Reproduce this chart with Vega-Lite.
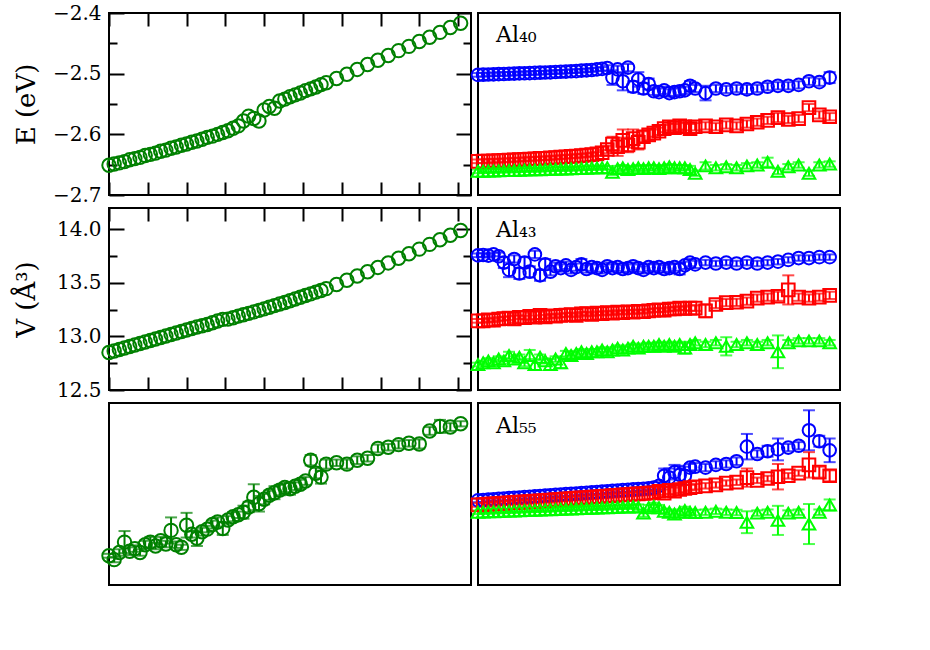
{
"$schema":"https://vega.github.io/schema/vega-lite/v6.json",
"padding":{"left":12,"top":2,"right":5,"bottom":5},
"config":{"font":"DejaVu Serif","view":{"stroke":"black","strokeWidth":2},
"axis":{"labelFont":"DejaVu Serif","labelFontSize":20,"labelColor":"black","titleFont":"DejaVu Serif","titleFontSize":26,"titleFontWeight":"normal","titleColor":"black","domain":false,"tickColor":"black","tickWidth":2,"grid":false,"labelFlush":false,"labelOverlap":false}},
"datasets":{
"L":[
{"T":300,"E":-2.651,"V":12.850,"C":3.45,"e":0.03},
{"T":310,"E":-2.649,"V":12.864,"C":3.39,"e":0.04},
{"T":320,"E":-2.647,"V":12.878,"C":3.50,"e":0.05},
{"T":330,"E":-2.645,"V":12.892,"C":3.66,"e":0.17},
{"T":340,"E":-2.642,"V":12.906,"C":3.52,"e":0.06},
{"T":350,"E":-2.640,"V":12.920,"C":3.56,"e":0.05},
{"T":360,"E":-2.638,"V":12.934,"C":3.50,"e":0.05},
{"T":370,"E":-2.635,"V":12.948,"C":3.62,"e":0.06},
{"T":380,"E":-2.633,"V":12.962,"C":3.66,"e":0.08},
{"T":390,"E":-2.631,"V":12.976,"C":3.60,"e":0.05},
{"T":400,"E":-2.628,"V":12.990,"C":3.68,"e":0.06},
{"T":410,"E":-2.626,"V":13.004,"C":3.63,"e":0.05},
{"T":420,"E":-2.623,"V":13.018,"C":3.84,"e":0.20},
{"T":430,"E":-2.621,"V":13.032,"C":3.62,"e":0.05},
{"T":440,"E":-2.618,"V":13.046,"C":3.58,"e":0.04},
{"T":450,"E":-2.616,"V":13.060,"C":3.92,"e":0.19},
{"T":460,"E":-2.613,"V":13.074,"C":3.78,"e":0.05},
{"T":470,"E":-2.611,"V":13.088,"C":3.72,"e":0.12},
{"T":480,"E":-2.608,"V":13.100,"C":3.82,"e":0.06},
{"T":490,"E":-2.605,"V":13.112,"C":3.86,"e":0.05},
{"T":500,"E":-2.603,"V":13.128,"C":3.93,"e":0.06},
{"T":510,"E":-2.600,"V":13.145,"C":3.97,"e":0.07},
{"T":520,"E":-2.597,"V":13.160,"C":3.87,"e":0.10},
{"T":530,"E":-2.594,"V":13.162,"C":4.00,"e":0.06},
{"T":540,"E":-2.590,"V":13.175,"C":4.05,"e":0.07},
{"T":550,"E":-2.586,"V":13.190,"C":4.08,"e":0.05},
{"T":560,"E":-2.578,"V":13.203,"C":4.12,"e":0.10},
{"T":570,"E":-2.570,"V":13.216,"C":4.20,"e":0.08},
{"T":580,"E":-2.574,"V":13.230,"C":4.35,"e":0.20},
{"T":590,"E":-2.578,"V":13.244,"C":4.25,"e":0.12},
{"T":600,"E":-2.560,"V":13.258,"C":4.32,"e":0.08},
{"T":610,"E":-2.554,"V":13.273,"C":4.38,"e":0.07},
{"T":620,"E":-2.557,"V":13.288,"C":4.42,"e":0.10},
{"T":630,"E":-2.545,"V":13.303,"C":4.46,"e":0.08},
{"T":640,"E":-2.542,"V":13.318,"C":4.50,"e":0.07},
{"T":650,"E":-2.538,"V":13.334,"C":4.48,"e":0.09},
{"T":660,"E":-2.535,"V":13.350,"C":4.52,"e":0.06},
{"T":670,"E":-2.532,"V":13.366,"C":4.55,"e":0.07},
{"T":680,"E":-2.528,"V":13.382,"C":4.60,"e":0.06},
{"T":690,"E":-2.525,"V":13.398,"C":4.92,"e":0.08},
{"T":700,"E":-2.522,"V":13.414,"C":4.72,"e":0.08},
{"T":710,"E":-2.518,"V":13.430,"C":4.66,"e":0.10},
{"T":720,"E":-2.515,"V":13.447,"C":4.86,"e":0.07},
{"T":740,"E":-2.508,"V":13.485,"C":4.88,"e":0.05},
{"T":760,"E":-2.501,"V":13.525,"C":4.86,"e":0.07},
{"T":780,"E":-2.493,"V":13.565,"C":4.92,"e":0.06},
{"T":800,"E":-2.485,"V":13.605,"C":4.95,"e":0.05},
{"T":820,"E":-2.478,"V":13.645,"C":5.10,"e":0.06},
{"T":840,"E":-2.470,"V":13.687,"C":5.12,"e":0.05},
{"T":860,"E":-2.462,"V":13.730,"C":5.16,"e":0.06},
{"T":880,"E":-2.455,"V":13.773,"C":5.18,"e":0.05},
{"T":900,"E":-2.447,"V":13.816,"C":5.17,"e":0.07},
{"T":920,"E":-2.440,"V":13.860,"C":5.37,"e":0.06},
{"T":940,"E":-2.432,"V":13.903,"C":5.44,"e":0.10},
{"T":960,"E":-2.424,"V":13.946,"C":5.43,"e":0.06},
{"T":980,"E":-2.417,"V":13.990,"C":5.48,"e":0.04}
],
"R":[
{"c":40,"s":"b","T":300,"R":3.660,"e":0.01},{"c":40,"s":"b","T":310,"R":3.661,"e":0.01},{"c":40,"s":"b","T":320,"R":3.662,"e":0.01},{"c":40,"s":"b","T":330,"R":3.663,"e":0.01},{"c":40,"s":"b","T":340,"R":3.664,"e":0.01},{"c":40,"s":"b","T":350,"R":3.665,"e":0.01},{"c":40,"s":"b","T":360,"R":3.666,"e":0.01},{"c":40,"s":"b","T":370,"R":3.667,"e":0.01},{"c":40,"s":"b","T":380,"R":3.668,"e":0.01},{"c":40,"s":"b","T":390,"R":3.669,"e":0.01},{"c":40,"s":"b","T":400,"R":3.670,"e":0.01},{"c":40,"s":"b","T":410,"R":3.671,"e":0.01},{"c":40,"s":"b","T":420,"R":3.672,"e":0.01},{"c":40,"s":"b","T":430,"R":3.673,"e":0.01},{"c":40,"s":"b","T":440,"R":3.674,"e":0.01},{"c":40,"s":"b","T":450,"R":3.676,"e":0.01},{"c":40,"s":"b","T":460,"R":3.677,"e":0.01},{"c":40,"s":"b","T":470,"R":3.678,"e":0.01},{"c":40,"s":"b","T":480,"R":3.680,"e":0.01},{"c":40,"s":"b","T":490,"R":3.681,"e":0.01},{"c":40,"s":"b","T":500,"R":3.683,"e":0.01},{"c":40,"s":"b","T":510,"R":3.685,"e":0.01},{"c":40,"s":"b","T":520,"R":3.687,"e":0.01},{"c":40,"s":"b","T":530,"R":3.690,"e":0.01},{"c":40,"s":"b","T":540,"R":3.693,"e":0.01},{"c":40,"s":"b","T":550,"R":3.698,"e":0.015},{"c":40,"s":"b","T":560,"R":3.645,"e":0.04},{"c":40,"s":"b","T":570,"R":3.690,"e":0.02},{"c":40,"s":"b","T":580,"R":3.625,"e":0.05},{"c":40,"s":"b","T":590,"R":3.700,"e":0.02},{"c":40,"s":"b","T":600,"R":3.595,"e":0.03},{"c":40,"s":"b","T":610,"R":3.635,"e":0.04},{"c":40,"s":"b","T":620,"R":3.585,"e":0.03},{"c":40,"s":"b","T":630,"R":3.610,"e":0.03},{"c":40,"s":"b","T":640,"R":3.570,"e":0.02},{"c":40,"s":"b","T":650,"R":3.565,"e":0.02},{"c":40,"s":"b","T":660,"R":3.575,"e":0.02},{"c":40,"s":"b","T":670,"R":3.560,"e":0.02},{"c":40,"s":"b","T":680,"R":3.565,"e":0.02},{"c":40,"s":"b","T":690,"R":3.570,"e":0.02},{"c":40,"s":"b","T":700,"R":3.575,"e":0.02},{"c":40,"s":"b","T":710,"R":3.600,"e":0.025},{"c":40,"s":"b","T":720,"R":3.585,"e":0.02},{"c":40,"s":"b","T":740,"R":3.560,"e":0.04},{"c":40,"s":"b","T":760,"R":3.585,"e":0.02},{"c":40,"s":"b","T":780,"R":3.580,"e":0.02},{"c":40,"s":"b","T":800,"R":3.585,"e":0.02},{"c":40,"s":"b","T":820,"R":3.580,"e":0.025},{"c":40,"s":"b","T":840,"R":3.585,"e":0.02},{"c":40,"s":"b","T":860,"R":3.595,"e":0.02},{"c":40,"s":"b","T":880,"R":3.600,"e":0.02},{"c":40,"s":"b","T":900,"R":3.600,"e":0.02},{"c":40,"s":"b","T":920,"R":3.605,"e":0.02},{"c":40,"s":"b","T":940,"R":3.625,"e":0.02},{"c":40,"s":"b","T":960,"R":3.620,"e":0.02},{"c":40,"s":"b","T":980,"R":3.645,"e":0.03},
{"c":40,"s":"r","T":300,"R":3.185,"e":0.01},{"c":40,"s":"r","T":310,"R":3.186,"e":0.01},{"c":40,"s":"r","T":320,"R":3.187,"e":0.01},{"c":40,"s":"r","T":330,"R":3.188,"e":0.01},{"c":40,"s":"r","T":340,"R":3.189,"e":0.01},{"c":40,"s":"r","T":350,"R":3.190,"e":0.01},{"c":40,"s":"r","T":360,"R":3.192,"e":0.01},{"c":40,"s":"r","T":370,"R":3.193,"e":0.01},{"c":40,"s":"r","T":380,"R":3.195,"e":0.01},{"c":40,"s":"r","T":390,"R":3.196,"e":0.01},{"c":40,"s":"r","T":400,"R":3.198,"e":0.01},{"c":40,"s":"r","T":410,"R":3.199,"e":0.01},{"c":40,"s":"r","T":420,"R":3.201,"e":0.01},{"c":40,"s":"r","T":430,"R":3.202,"e":0.01},{"c":40,"s":"r","T":440,"R":3.204,"e":0.01},{"c":40,"s":"r","T":450,"R":3.206,"e":0.01},{"c":40,"s":"r","T":460,"R":3.208,"e":0.01},{"c":40,"s":"r","T":470,"R":3.210,"e":0.01},{"c":40,"s":"r","T":480,"R":3.212,"e":0.01},{"c":40,"s":"r","T":490,"R":3.214,"e":0.01},{"c":40,"s":"r","T":500,"R":3.216,"e":0.01},{"c":40,"s":"r","T":510,"R":3.219,"e":0.01},{"c":40,"s":"r","T":520,"R":3.222,"e":0.01},{"c":40,"s":"r","T":530,"R":3.226,"e":0.01},{"c":40,"s":"r","T":540,"R":3.232,"e":0.015},{"c":40,"s":"r","T":550,"R":3.250,"e":0.02},{"c":40,"s":"r","T":560,"R":3.280,"e":0.04},{"c":40,"s":"r","T":570,"R":3.265,"e":0.05},{"c":40,"s":"r","T":580,"R":3.300,"e":0.06},{"c":40,"s":"r","T":590,"R":3.275,"e":0.04},{"c":40,"s":"r","T":600,"R":3.310,"e":0.05},{"c":40,"s":"r","T":610,"R":3.290,"e":0.04},{"c":40,"s":"r","T":620,"R":3.320,"e":0.03},{"c":40,"s":"r","T":630,"R":3.330,"e":0.03},{"c":40,"s":"r","T":640,"R":3.340,"e":0.02},{"c":40,"s":"r","T":650,"R":3.350,"e":0.02},{"c":40,"s":"r","T":660,"R":3.365,"e":0.02},{"c":40,"s":"r","T":670,"R":3.375,"e":0.02},{"c":40,"s":"r","T":680,"R":3.370,"e":0.02},{"c":40,"s":"r","T":690,"R":3.380,"e":0.02},{"c":40,"s":"r","T":700,"R":3.375,"e":0.02},{"c":40,"s":"r","T":710,"R":3.365,"e":0.025},{"c":40,"s":"r","T":720,"R":3.375,"e":0.02},{"c":40,"s":"r","T":740,"R":3.380,"e":0.02},{"c":40,"s":"r","T":760,"R":3.375,"e":0.02},{"c":40,"s":"r","T":780,"R":3.385,"e":0.02},{"c":40,"s":"r","T":800,"R":3.380,"e":0.02},{"c":40,"s":"r","T":820,"R":3.390,"e":0.02},{"c":40,"s":"r","T":840,"R":3.400,"e":0.02},{"c":40,"s":"r","T":860,"R":3.410,"e":0.02},{"c":40,"s":"r","T":880,"R":3.425,"e":0.025},{"c":40,"s":"r","T":900,"R":3.415,"e":0.02},{"c":40,"s":"r","T":920,"R":3.420,"e":0.02},{"c":40,"s":"r","T":940,"R":3.480,"e":0.02},{"c":40,"s":"r","T":960,"R":3.440,"e":0.02},{"c":40,"s":"r","T":980,"R":3.430,"e":0.02},
{"c":40,"s":"g","T":300,"R":3.130,"e":0.01},{"c":40,"s":"g","T":310,"R":3.131,"e":0.01},{"c":40,"s":"g","T":320,"R":3.132,"e":0.01},{"c":40,"s":"g","T":330,"R":3.132,"e":0.01},{"c":40,"s":"g","T":340,"R":3.133,"e":0.01},{"c":40,"s":"g","T":350,"R":3.134,"e":0.01},{"c":40,"s":"g","T":360,"R":3.135,"e":0.01},{"c":40,"s":"g","T":370,"R":3.135,"e":0.01},{"c":40,"s":"g","T":380,"R":3.136,"e":0.01},{"c":40,"s":"g","T":390,"R":3.137,"e":0.01},{"c":40,"s":"g","T":400,"R":3.138,"e":0.01},{"c":40,"s":"g","T":410,"R":3.138,"e":0.01},{"c":40,"s":"g","T":420,"R":3.139,"e":0.01},{"c":40,"s":"g","T":430,"R":3.140,"e":0.01},{"c":40,"s":"g","T":440,"R":3.141,"e":0.01},{"c":40,"s":"g","T":450,"R":3.142,"e":0.01},{"c":40,"s":"g","T":460,"R":3.143,"e":0.01},{"c":40,"s":"g","T":470,"R":3.143,"e":0.01},{"c":40,"s":"g","T":480,"R":3.144,"e":0.01},{"c":40,"s":"g","T":490,"R":3.145,"e":0.01},{"c":40,"s":"g","T":500,"R":3.146,"e":0.01},{"c":40,"s":"g","T":510,"R":3.147,"e":0.01},{"c":40,"s":"g","T":520,"R":3.148,"e":0.01},{"c":40,"s":"g","T":530,"R":3.149,"e":0.01},{"c":40,"s":"g","T":540,"R":3.150,"e":0.01},{"c":40,"s":"g","T":550,"R":3.150,"e":0.01},{"c":40,"s":"g","T":560,"R":3.125,"e":0.015},{"c":40,"s":"g","T":570,"R":3.145,"e":0.015},{"c":40,"s":"g","T":580,"R":3.150,"e":0.015},{"c":40,"s":"g","T":590,"R":3.140,"e":0.015},{"c":40,"s":"g","T":600,"R":3.145,"e":0.015},{"c":40,"s":"g","T":610,"R":3.150,"e":0.015},{"c":40,"s":"g","T":620,"R":3.145,"e":0.015},{"c":40,"s":"g","T":630,"R":3.150,"e":0.015},{"c":40,"s":"g","T":640,"R":3.150,"e":0.015},{"c":40,"s":"g","T":650,"R":3.145,"e":0.015},{"c":40,"s":"g","T":660,"R":3.150,"e":0.015},{"c":40,"s":"g","T":670,"R":3.155,"e":0.015},{"c":40,"s":"g","T":680,"R":3.150,"e":0.015},{"c":40,"s":"g","T":690,"R":3.150,"e":0.015},{"c":40,"s":"g","T":700,"R":3.150,"e":0.015},{"c":40,"s":"g","T":710,"R":3.140,"e":0.02},{"c":40,"s":"g","T":720,"R":3.120,"e":0.015},{"c":40,"s":"g","T":740,"R":3.160,"e":0.02},{"c":40,"s":"g","T":760,"R":3.150,"e":0.015},{"c":40,"s":"g","T":780,"R":3.155,"e":0.015},{"c":40,"s":"g","T":800,"R":3.150,"e":0.015},{"c":40,"s":"g","T":820,"R":3.160,"e":0.015},{"c":40,"s":"g","T":840,"R":3.165,"e":0.015},{"c":40,"s":"g","T":860,"R":3.180,"e":0.025},{"c":40,"s":"g","T":880,"R":3.130,"e":0.015},{"c":40,"s":"g","T":900,"R":3.155,"e":0.015},{"c":40,"s":"g","T":920,"R":3.165,"e":0.015},{"c":40,"s":"g","T":940,"R":3.120,"e":0.015},{"c":40,"s":"g","T":960,"R":3.165,"e":0.015},{"c":40,"s":"g","T":980,"R":3.170,"e":0.015},
{"c":43,"s":"b","T":300,"R":3.740,"e":0.01},{"c":43,"s":"b","T":310,"R":3.742,"e":0.01},{"c":43,"s":"b","T":320,"R":3.738,"e":0.01},{"c":43,"s":"b","T":330,"R":3.745,"e":0.01},{"c":43,"s":"b","T":340,"R":3.735,"e":0.02},{"c":43,"s":"b","T":350,"R":3.700,"e":0.03},{"c":43,"s":"b","T":360,"R":3.660,"e":0.04},{"c":43,"s":"b","T":370,"R":3.720,"e":0.02},{"c":43,"s":"b","T":380,"R":3.640,"e":0.03},{"c":43,"s":"b","T":390,"R":3.700,"e":0.03},{"c":43,"s":"b","T":400,"R":3.650,"e":0.03},{"c":43,"s":"b","T":410,"R":3.745,"e":0.02},{"c":43,"s":"b","T":420,"R":3.630,"e":0.03},{"c":43,"s":"b","T":430,"R":3.690,"e":0.03},{"c":43,"s":"b","T":440,"R":3.650,"e":0.02},{"c":43,"s":"b","T":450,"R":3.680,"e":0.02},{"c":43,"s":"b","T":460,"R":3.670,"e":0.02},{"c":43,"s":"b","T":470,"R":3.685,"e":0.02},{"c":43,"s":"b","T":480,"R":3.660,"e":0.02},{"c":43,"s":"b","T":490,"R":3.675,"e":0.02},{"c":43,"s":"b","T":500,"R":3.690,"e":0.03},{"c":43,"s":"b","T":510,"R":3.665,"e":0.02},{"c":43,"s":"b","T":520,"R":3.675,"e":0.02},{"c":43,"s":"b","T":530,"R":3.670,"e":0.02},{"c":43,"s":"b","T":540,"R":3.660,"e":0.02},{"c":43,"s":"b","T":550,"R":3.680,"e":0.02},{"c":43,"s":"b","T":560,"R":3.670,"e":0.02},{"c":43,"s":"b","T":570,"R":3.675,"e":0.02},{"c":43,"s":"b","T":580,"R":3.665,"e":0.02},{"c":43,"s":"b","T":590,"R":3.670,"e":0.02},{"c":43,"s":"b","T":600,"R":3.680,"e":0.02},{"c":43,"s":"b","T":610,"R":3.670,"e":0.02},{"c":43,"s":"b","T":620,"R":3.660,"e":0.02},{"c":43,"s":"b","T":630,"R":3.675,"e":0.02},{"c":43,"s":"b","T":640,"R":3.670,"e":0.02},{"c":43,"s":"b","T":650,"R":3.675,"e":0.02},{"c":43,"s":"b","T":660,"R":3.665,"e":0.02},{"c":43,"s":"b","T":670,"R":3.670,"e":0.02},{"c":43,"s":"b","T":680,"R":3.675,"e":0.02},{"c":43,"s":"b","T":690,"R":3.665,"e":0.03},{"c":43,"s":"b","T":700,"R":3.685,"e":0.02},{"c":43,"s":"b","T":710,"R":3.700,"e":0.02},{"c":43,"s":"b","T":720,"R":3.690,"e":0.02},{"c":43,"s":"b","T":740,"R":3.700,"e":0.015},{"c":43,"s":"b","T":760,"R":3.695,"e":0.015},{"c":43,"s":"b","T":780,"R":3.700,"e":0.015},{"c":43,"s":"b","T":800,"R":3.695,"e":0.015},{"c":43,"s":"b","T":820,"R":3.700,"e":0.015},{"c":43,"s":"b","T":840,"R":3.695,"e":0.015},{"c":43,"s":"b","T":860,"R":3.700,"e":0.015},{"c":43,"s":"b","T":880,"R":3.705,"e":0.015},{"c":43,"s":"b","T":900,"R":3.715,"e":0.015},{"c":43,"s":"b","T":920,"R":3.725,"e":0.015},{"c":43,"s":"b","T":940,"R":3.725,"e":0.015},{"c":43,"s":"b","T":960,"R":3.730,"e":0.015},{"c":43,"s":"b","T":980,"R":3.730,"e":0.015},
{"c":43,"s":"r","T":300,"R":3.380,"e":0.01},{"c":43,"s":"r","T":310,"R":3.380,"e":0.01},{"c":43,"s":"r","T":320,"R":3.385,"e":0.01},{"c":43,"s":"r","T":330,"R":3.383,"e":0.01},{"c":43,"s":"r","T":340,"R":3.390,"e":0.01},{"c":43,"s":"r","T":350,"R":3.392,"e":0.01},{"c":43,"s":"r","T":360,"R":3.395,"e":0.01},{"c":43,"s":"r","T":370,"R":3.390,"e":0.02},{"c":43,"s":"r","T":380,"R":3.400,"e":0.01},{"c":43,"s":"r","T":390,"R":3.398,"e":0.01},{"c":43,"s":"r","T":400,"R":3.405,"e":0.02},{"c":43,"s":"r","T":410,"R":3.400,"e":0.01},{"c":43,"s":"r","T":420,"R":3.410,"e":0.02},{"c":43,"s":"r","T":430,"R":3.402,"e":0.01},{"c":43,"s":"r","T":440,"R":3.408,"e":0.01},{"c":43,"s":"r","T":450,"R":3.405,"e":0.01},{"c":43,"s":"r","T":460,"R":3.410,"e":0.01},{"c":43,"s":"r","T":470,"R":3.412,"e":0.01},{"c":43,"s":"r","T":480,"R":3.415,"e":0.01},{"c":43,"s":"r","T":490,"R":3.410,"e":0.01},{"c":43,"s":"r","T":500,"R":3.418,"e":0.01},{"c":43,"s":"r","T":510,"R":3.420,"e":0.01},{"c":43,"s":"r","T":520,"R":3.415,"e":0.01},{"c":43,"s":"r","T":530,"R":3.422,"e":0.01},{"c":43,"s":"r","T":540,"R":3.420,"e":0.01},{"c":43,"s":"r","T":550,"R":3.425,"e":0.01},{"c":43,"s":"r","T":560,"R":3.422,"e":0.01},{"c":43,"s":"r","T":570,"R":3.428,"e":0.01},{"c":43,"s":"r","T":580,"R":3.425,"e":0.01},{"c":43,"s":"r","T":590,"R":3.430,"e":0.01},{"c":43,"s":"r","T":600,"R":3.428,"e":0.01},{"c":43,"s":"r","T":610,"R":3.432,"e":0.01},{"c":43,"s":"r","T":620,"R":3.430,"e":0.01},{"c":43,"s":"r","T":630,"R":3.435,"e":0.01},{"c":43,"s":"r","T":640,"R":3.438,"e":0.01},{"c":43,"s":"r","T":650,"R":3.440,"e":0.01},{"c":43,"s":"r","T":660,"R":3.438,"e":0.01},{"c":43,"s":"r","T":670,"R":3.445,"e":0.01},{"c":43,"s":"r","T":680,"R":3.445,"e":0.01},{"c":43,"s":"r","T":690,"R":3.450,"e":0.01},{"c":43,"s":"r","T":700,"R":3.448,"e":0.01},{"c":43,"s":"r","T":710,"R":3.450,"e":0.015},{"c":43,"s":"r","T":720,"R":3.450,"e":0.015},{"c":43,"s":"r","T":740,"R":3.435,"e":0.035},{"c":43,"s":"r","T":760,"R":3.470,"e":0.02},{"c":43,"s":"r","T":780,"R":3.480,"e":0.02},{"c":43,"s":"r","T":800,"R":3.482,"e":0.02},{"c":43,"s":"r","T":820,"R":3.488,"e":0.02},{"c":43,"s":"r","T":840,"R":3.505,"e":0.02},{"c":43,"s":"r","T":860,"R":3.510,"e":0.02},{"c":43,"s":"r","T":880,"R":3.515,"e":0.025},{"c":43,"s":"r","T":900,"R":3.550,"e":0.08},{"c":43,"s":"r","T":920,"R":3.510,"e":0.02},{"c":43,"s":"r","T":940,"R":3.505,"e":0.02},{"c":43,"s":"r","T":960,"R":3.510,"e":0.02},{"c":43,"s":"r","T":980,"R":3.520,"e":0.02},
{"c":43,"s":"g","T":300,"R":3.140,"e":0.01},{"c":43,"s":"g","T":310,"R":3.150,"e":0.01},{"c":43,"s":"g","T":320,"R":3.160,"e":0.015},{"c":43,"s":"g","T":330,"R":3.150,"e":0.015},{"c":43,"s":"g","T":340,"R":3.170,"e":0.015},{"c":43,"s":"g","T":350,"R":3.160,"e":0.015},{"c":43,"s":"g","T":360,"R":3.190,"e":0.02},{"c":43,"s":"g","T":370,"R":3.170,"e":0.015},{"c":43,"s":"g","T":380,"R":3.180,"e":0.015},{"c":43,"s":"g","T":390,"R":3.150,"e":0.02},{"c":43,"s":"g","T":400,"R":3.190,"e":0.03},{"c":43,"s":"g","T":410,"R":3.140,"e":0.03},{"c":43,"s":"g","T":420,"R":3.180,"e":0.015},{"c":43,"s":"g","T":430,"R":3.160,"e":0.015},{"c":43,"s":"g","T":440,"R":3.140,"e":0.03},{"c":43,"s":"g","T":450,"R":3.170,"e":0.015},{"c":43,"s":"g","T":460,"R":3.150,"e":0.03},{"c":43,"s":"g","T":470,"R":3.200,"e":0.015},{"c":43,"s":"g","T":480,"R":3.190,"e":0.015},{"c":43,"s":"g","T":490,"R":3.200,"e":0.015},{"c":43,"s":"g","T":500,"R":3.210,"e":0.015},{"c":43,"s":"g","T":510,"R":3.200,"e":0.015},{"c":43,"s":"g","T":520,"R":3.210,"e":0.015},{"c":43,"s":"g","T":530,"R":3.210,"e":0.015},{"c":43,"s":"g","T":540,"R":3.220,"e":0.015},{"c":43,"s":"g","T":550,"R":3.210,"e":0.015},{"c":43,"s":"g","T":560,"R":3.220,"e":0.015},{"c":43,"s":"g","T":570,"R":3.230,"e":0.015},{"c":43,"s":"g","T":580,"R":3.220,"e":0.015},{"c":43,"s":"g","T":590,"R":3.230,"e":0.015},{"c":43,"s":"g","T":600,"R":3.240,"e":0.015},{"c":43,"s":"g","T":610,"R":3.230,"e":0.015},{"c":43,"s":"g","T":620,"R":3.240,"e":0.015},{"c":43,"s":"g","T":630,"R":3.240,"e":0.02},{"c":43,"s":"g","T":640,"R":3.240,"e":0.015},{"c":43,"s":"g","T":650,"R":3.250,"e":0.015},{"c":43,"s":"g","T":660,"R":3.240,"e":0.015},{"c":43,"s":"g","T":670,"R":3.250,"e":0.015},{"c":43,"s":"g","T":680,"R":3.240,"e":0.015},{"c":43,"s":"g","T":690,"R":3.250,"e":0.015},{"c":43,"s":"g","T":700,"R":3.230,"e":0.03},{"c":43,"s":"g","T":710,"R":3.250,"e":0.015},{"c":43,"s":"g","T":720,"R":3.260,"e":0.015},{"c":43,"s":"g","T":740,"R":3.250,"e":0.015},{"c":43,"s":"g","T":760,"R":3.260,"e":0.015},{"c":43,"s":"g","T":780,"R":3.240,"e":0.05},{"c":43,"s":"g","T":800,"R":3.250,"e":0.015},{"c":43,"s":"g","T":820,"R":3.260,"e":0.015},{"c":43,"s":"g","T":840,"R":3.250,"e":0.015},{"c":43,"s":"g","T":860,"R":3.260,"e":0.015},{"c":43,"s":"g","T":880,"R":3.210,"e":0.09},{"c":43,"s":"g","T":900,"R":3.260,"e":0.015},{"c":43,"s":"g","T":920,"R":3.270,"e":0.015},{"c":43,"s":"g","T":940,"R":3.270,"e":0.015},{"c":43,"s":"g","T":960,"R":3.270,"e":0.015},{"c":43,"s":"g","T":980,"R":3.260,"e":0.015},
{"c":55,"s":"b","T":300,"R":3.665,"e":0.01},{"c":55,"s":"b","T":310,"R":3.667,"e":0.01},{"c":55,"s":"b","T":320,"R":3.669,"e":0.01},{"c":55,"s":"b","T":330,"R":3.671,"e":0.01},{"c":55,"s":"b","T":340,"R":3.673,"e":0.01},{"c":55,"s":"b","T":350,"R":3.675,"e":0.01},{"c":55,"s":"b","T":360,"R":3.677,"e":0.01},{"c":55,"s":"b","T":370,"R":3.679,"e":0.01},{"c":55,"s":"b","T":380,"R":3.681,"e":0.01},{"c":55,"s":"b","T":390,"R":3.683,"e":0.01},{"c":55,"s":"b","T":400,"R":3.685,"e":0.01},{"c":55,"s":"b","T":410,"R":3.687,"e":0.01},{"c":55,"s":"b","T":420,"R":3.689,"e":0.01},{"c":55,"s":"b","T":430,"R":3.691,"e":0.01},{"c":55,"s":"b","T":440,"R":3.693,"e":0.01},{"c":55,"s":"b","T":450,"R":3.695,"e":0.01},{"c":55,"s":"b","T":460,"R":3.697,"e":0.01},{"c":55,"s":"b","T":470,"R":3.699,"e":0.01},{"c":55,"s":"b","T":480,"R":3.701,"e":0.01},{"c":55,"s":"b","T":490,"R":3.703,"e":0.01},{"c":55,"s":"b","T":500,"R":3.705,"e":0.01},{"c":55,"s":"b","T":510,"R":3.707,"e":0.01},{"c":55,"s":"b","T":520,"R":3.709,"e":0.01},{"c":55,"s":"b","T":530,"R":3.711,"e":0.01},{"c":55,"s":"b","T":540,"R":3.713,"e":0.01},{"c":55,"s":"b","T":550,"R":3.715,"e":0.01},{"c":55,"s":"b","T":560,"R":3.717,"e":0.01},{"c":55,"s":"b","T":570,"R":3.719,"e":0.01},{"c":55,"s":"b","T":580,"R":3.721,"e":0.01},{"c":55,"s":"b","T":590,"R":3.723,"e":0.01},{"c":55,"s":"b","T":600,"R":3.725,"e":0.01},{"c":55,"s":"b","T":610,"R":3.727,"e":0.01},{"c":55,"s":"b","T":620,"R":3.729,"e":0.01},{"c":55,"s":"b","T":630,"R":3.731,"e":0.01},{"c":55,"s":"b","T":640,"R":3.735,"e":0.01},{"c":55,"s":"b","T":650,"R":3.745,"e":0.02},{"c":55,"s":"b","T":660,"R":3.800,"e":0.04},{"c":55,"s":"b","T":670,"R":3.790,"e":0.05},{"c":55,"s":"b","T":680,"R":3.820,"e":0.04},{"c":55,"s":"b","T":690,"R":3.805,"e":0.05},{"c":55,"s":"b","T":700,"R":3.800,"e":0.05},{"c":55,"s":"b","T":710,"R":3.845,"e":0.02},{"c":55,"s":"b","T":720,"R":3.850,"e":0.02},{"c":55,"s":"b","T":740,"R":3.845,"e":0.02},{"c":55,"s":"b","T":760,"R":3.860,"e":0.02},{"c":55,"s":"b","T":780,"R":3.865,"e":0.02},{"c":55,"s":"b","T":800,"R":3.880,"e":0.02},{"c":55,"s":"b","T":820,"R":3.960,"e":0.07},{"c":55,"s":"b","T":840,"R":3.920,"e":0.02},{"c":55,"s":"b","T":860,"R":3.935,"e":0.03},{"c":55,"s":"b","T":880,"R":3.945,"e":0.06},{"c":55,"s":"b","T":900,"R":3.955,"e":0.02},{"c":55,"s":"b","T":920,"R":3.965,"e":0.02},{"c":55,"s":"b","T":940,"R":4.050,"e":0.11},{"c":55,"s":"b","T":960,"R":3.990,"e":0.03},{"c":55,"s":"b","T":980,"R":3.940,"e":0.065},
{"c":55,"s":"r","T":300,"R":3.640,"e":0.01},{"c":55,"s":"r","T":310,"R":3.642,"e":0.01},{"c":55,"s":"r","T":320,"R":3.644,"e":0.01},{"c":55,"s":"r","T":330,"R":3.646,"e":0.01},{"c":55,"s":"r","T":340,"R":3.648,"e":0.01},{"c":55,"s":"r","T":350,"R":3.650,"e":0.01},{"c":55,"s":"r","T":360,"R":3.652,"e":0.01},{"c":55,"s":"r","T":370,"R":3.654,"e":0.01},{"c":55,"s":"r","T":380,"R":3.655,"e":0.01},{"c":55,"s":"r","T":390,"R":3.657,"e":0.01},{"c":55,"s":"r","T":400,"R":3.659,"e":0.01},{"c":55,"s":"r","T":410,"R":3.661,"e":0.01},{"c":55,"s":"r","T":420,"R":3.663,"e":0.01},{"c":55,"s":"r","T":430,"R":3.665,"e":0.01},{"c":55,"s":"r","T":440,"R":3.667,"e":0.01},{"c":55,"s":"r","T":450,"R":3.669,"e":0.01},{"c":55,"s":"r","T":460,"R":3.671,"e":0.01},{"c":55,"s":"r","T":470,"R":3.673,"e":0.01},{"c":55,"s":"r","T":480,"R":3.675,"e":0.01},{"c":55,"s":"r","T":490,"R":3.677,"e":0.01},{"c":55,"s":"r","T":500,"R":3.679,"e":0.01},{"c":55,"s":"r","T":510,"R":3.681,"e":0.01},{"c":55,"s":"r","T":520,"R":3.683,"e":0.01},{"c":55,"s":"r","T":530,"R":3.685,"e":0.01},{"c":55,"s":"r","T":540,"R":3.687,"e":0.01},{"c":55,"s":"r","T":550,"R":3.689,"e":0.01},{"c":55,"s":"r","T":560,"R":3.691,"e":0.01},{"c":55,"s":"r","T":570,"R":3.693,"e":0.01},{"c":55,"s":"r","T":580,"R":3.695,"e":0.01},{"c":55,"s":"r","T":590,"R":3.697,"e":0.01},{"c":55,"s":"r","T":600,"R":3.699,"e":0.01},{"c":55,"s":"r","T":610,"R":3.701,"e":0.01},{"c":55,"s":"r","T":620,"R":3.703,"e":0.01},{"c":55,"s":"r","T":630,"R":3.705,"e":0.01},{"c":55,"s":"r","T":640,"R":3.707,"e":0.01},{"c":55,"s":"r","T":650,"R":3.715,"e":0.02},{"c":55,"s":"r","T":660,"R":3.705,"e":0.02},{"c":55,"s":"r","T":670,"R":3.720,"e":0.02},{"c":55,"s":"r","T":680,"R":3.715,"e":0.02},{"c":55,"s":"r","T":690,"R":3.725,"e":0.02},{"c":55,"s":"r","T":700,"R":3.730,"e":0.02},{"c":55,"s":"r","T":710,"R":3.735,"e":0.015},{"c":55,"s":"r","T":720,"R":3.740,"e":0.015},{"c":55,"s":"r","T":740,"R":3.745,"e":0.015},{"c":55,"s":"r","T":760,"R":3.750,"e":0.015},{"c":55,"s":"r","T":780,"R":3.760,"e":0.015},{"c":55,"s":"r","T":800,"R":3.765,"e":0.015},{"c":55,"s":"r","T":820,"R":3.790,"e":0.05},{"c":55,"s":"r","T":840,"R":3.775,"e":0.015},{"c":55,"s":"r","T":860,"R":3.785,"e":0.015},{"c":55,"s":"r","T":880,"R":3.795,"e":0.07},{"c":55,"s":"r","T":900,"R":3.800,"e":0.015},{"c":55,"s":"r","T":920,"R":3.815,"e":0.015},{"c":55,"s":"r","T":940,"R":3.860,"e":0.07},{"c":55,"s":"r","T":960,"R":3.820,"e":0.03},{"c":55,"s":"r","T":980,"R":3.800,"e":0.03},
{"c":55,"s":"g","T":300,"R":3.600,"e":0.01},{"c":55,"s":"g","T":310,"R":3.601,"e":0.01},{"c":55,"s":"g","T":320,"R":3.602,"e":0.01},{"c":55,"s":"g","T":330,"R":3.603,"e":0.01},{"c":55,"s":"g","T":340,"R":3.604,"e":0.01},{"c":55,"s":"g","T":350,"R":3.605,"e":0.01},{"c":55,"s":"g","T":360,"R":3.606,"e":0.01},{"c":55,"s":"g","T":370,"R":3.607,"e":0.01},{"c":55,"s":"g","T":380,"R":3.608,"e":0.01},{"c":55,"s":"g","T":390,"R":3.609,"e":0.01},{"c":55,"s":"g","T":400,"R":3.610,"e":0.01},{"c":55,"s":"g","T":410,"R":3.611,"e":0.01},{"c":55,"s":"g","T":420,"R":3.612,"e":0.01},{"c":55,"s":"g","T":430,"R":3.613,"e":0.01},{"c":55,"s":"g","T":440,"R":3.614,"e":0.01},{"c":55,"s":"g","T":450,"R":3.615,"e":0.01},{"c":55,"s":"g","T":460,"R":3.616,"e":0.01},{"c":55,"s":"g","T":470,"R":3.617,"e":0.01},{"c":55,"s":"g","T":480,"R":3.618,"e":0.01},{"c":55,"s":"g","T":490,"R":3.619,"e":0.01},{"c":55,"s":"g","T":500,"R":3.620,"e":0.01},{"c":55,"s":"g","T":510,"R":3.621,"e":0.01},{"c":55,"s":"g","T":520,"R":3.622,"e":0.01},{"c":55,"s":"g","T":530,"R":3.623,"e":0.01},{"c":55,"s":"g","T":540,"R":3.624,"e":0.01},{"c":55,"s":"g","T":550,"R":3.625,"e":0.01},{"c":55,"s":"g","T":560,"R":3.626,"e":0.01},{"c":55,"s":"g","T":570,"R":3.627,"e":0.01},{"c":55,"s":"g","T":580,"R":3.628,"e":0.01},{"c":55,"s":"g","T":590,"R":3.629,"e":0.01},{"c":55,"s":"g","T":600,"R":3.630,"e":0.01},{"c":55,"s":"g","T":610,"R":3.628,"e":0.015},{"c":55,"s":"g","T":620,"R":3.595,"e":0.02},{"c":55,"s":"g","T":630,"R":3.625,"e":0.015},{"c":55,"s":"g","T":640,"R":3.632,"e":0.02},{"c":55,"s":"g","T":650,"R":3.625,"e":0.015},{"c":55,"s":"g","T":660,"R":3.605,"e":0.015},{"c":55,"s":"g","T":670,"R":3.600,"e":0.015},{"c":55,"s":"g","T":680,"R":3.590,"e":0.015},{"c":55,"s":"g","T":690,"R":3.600,"e":0.015},{"c":55,"s":"g","T":700,"R":3.610,"e":0.02},{"c":55,"s":"g","T":710,"R":3.600,"e":0.015},{"c":55,"s":"g","T":720,"R":3.598,"e":0.015},{"c":55,"s":"g","T":740,"R":3.600,"e":0.015},{"c":55,"s":"g","T":760,"R":3.605,"e":0.015},{"c":55,"s":"g","T":780,"R":3.600,"e":0.015},{"c":55,"s":"g","T":800,"R":3.598,"e":0.015},{"c":55,"s":"g","T":820,"R":3.545,"e":0.06},{"c":55,"s":"g","T":840,"R":3.595,"e":0.015},{"c":55,"s":"g","T":860,"R":3.600,"e":0.015},{"c":55,"s":"g","T":880,"R":3.555,"e":0.08},{"c":55,"s":"g","T":900,"R":3.595,"e":0.015},{"c":55,"s":"g","T":920,"R":3.600,"e":0.015},{"c":55,"s":"g","T":940,"R":3.535,"e":0.11},{"c":55,"s":"g","T":960,"R":3.600,"e":0.015},{"c":55,"s":"g","T":980,"R":3.640,"e":0.03}
]},
"columns":2,
"spacing":{"row":13,"column":7},
"bounds":"flush",
"concat":[
{"width":362,"height":182,"data":{"name":"L"},
"mark":{"type":"point","shape":"circle","filled":false,"size":180,"strokeWidth":2,"color":"#008000","opacity":1},
"encoding":{"x":{"field":"T","type":"quantitative","scale":{"domain":[300,1000],"nice":false,"zero":false},"axis":{"orient":"bottom","values":[300,375,450,525,600,675,750,825,900,975],"labels":false,"ticks":false,"grid":true,"gridColor":"black","gridOpacity":1,"gridWidth":2,"gridDash":[13,156,13],"title":null}},
"y":{"field":"E","type":"quantitative","scale":{"domain":[-2.7,-2.4],"nice":false,"zero":false},"axis":{"orient":"left","values":[-2.7,-2.65,-2.6,-2.55,-2.5,-2.45,-2.4],"format":".1f","labelExpr":"indexof([-2.7,-2.6,-2.5,-2.4], datum.value) >= 0 ? datum.label : ''","ticks":false,"labelPadding":8,"grid":true,"gridColor":"black","gridOpacity":1,"gridWidth":2,"gridDash":{"condition":{"test":"indexof([-2.7,-2.6,-2.5,-2.4], datum.value) >= 0","value":[15,332,15]},"value":[8,346,8]},"title":"E (eV)","titleX":-70,"titleY":91}}}},
{"width":362,"height":182,"data":{"name":"R"},"transform":[{"filter":"datum.c == 40"}],
"layer":[
{"mark":{"type":"errorbar","ticks":true,"size":12,"thickness":2},"encoding":{"x":{"field":"T","type":"quantitative","scale":{"domain":[300,1000],"nice":false,"zero":false},"axis":null},"y":{"field":"R","type":"quantitative","scale":{"domain":[3.0,4.0],"nice":false,"zero":false},"axis":null},"yError":{"field":"e"},"color":{"field":"s","type":"nominal","scale":{"domain":["b","r","g"],"range":["#0000ff","#ff0000","#00ff00"]},"legend":null}}},
{"mark":{"type":"point","filled":false,"size":160,"strokeWidth":2,"opacity":1},"encoding":{"x":{"field":"T","type":"quantitative","axis":null},"y":{"field":"R","type":"quantitative","axis":{"orient":"right","values":[3.0,3.3,3.6,3.9],"format":".1f","ticks":false,"labelPadding":8,"title":null}},"color":{"field":"s","type":"nominal","scale":{"domain":["b","r","g"],"range":["#0000ff","#ff0000","#00ff00"]},"legend":null},"shape":{"field":"s","type":"nominal","scale":{"domain":["b","r","g"],"range":["circle","square","triangle-up"]},"legend":null}}},
{"data":{"values":[{"lab":"Al₄₀"}]},"mark":{"type":"text","align":"left","baseline":"alphabetic","fontSize":22,"font":"DejaVu Serif","color":"black"},"encoding":{"x":{"datum":335,"type":"quantitative","axis":null},"y":{"datum":3.84,"type":"quantitative","axis":null},"text":{"field":"lab"}}}
]},
{"width":362,"height":182,"data":{"name":"L"},
"mark":{"type":"point","shape":"circle","filled":false,"size":180,"strokeWidth":2,"color":"#008000","opacity":1},
"encoding":{"x":{"field":"T","type":"quantitative","scale":{"domain":[300,1000],"nice":false,"zero":false},"axis":{"orient":"bottom","values":[300,375,450,525,600,675,750,825,900,975],"labels":false,"ticks":false,"grid":true,"gridColor":"black","gridOpacity":1,"gridWidth":2,"gridDash":[13,156,13],"title":null}},
"y":{"field":"V","type":"quantitative","scale":{"domain":[12.5,14.2],"nice":false,"zero":false},"axis":{"orient":"left","values":[12.5,12.75,13.0,13.25,13.5,13.75,14.0],"format":".1f","labelExpr":"indexof([12.5,13.0,13.5,14.0], datum.value) >= 0 ? datum.label : ''","ticks":false,"labelPadding":8,"grid":true,"gridColor":"black","gridOpacity":1,"gridWidth":2,"gridDash":{"condition":{"test":"indexof([12.5,13.0,13.5,14.0], datum.value) >= 0","value":[15,332,15]},"value":[8,346,8]},"title":"V (Å³)","titleX":-70,"titleY":91}}}},
{"width":362,"height":182,"data":{"name":"R"},"transform":[{"filter":"datum.c == 43"}],
"layer":[
{"mark":{"type":"errorbar","ticks":true,"size":12,"thickness":2},"encoding":{"x":{"field":"T","type":"quantitative","scale":{"domain":[300,1000],"nice":false,"zero":false},"axis":null},"y":{"field":"R","type":"quantitative","scale":{"domain":[3.0,4.0],"nice":false,"zero":false},"axis":null},"yError":{"field":"e"},"color":{"field":"s","type":"nominal","scale":{"domain":["b","r","g"],"range":["#0000ff","#ff0000","#00ff00"]},"legend":null}}},
{"mark":{"type":"point","filled":false,"size":160,"strokeWidth":2,"opacity":1},"encoding":{"x":{"field":"T","type":"quantitative","axis":null},"y":{"field":"R","type":"quantitative","axis":{"orient":"right","values":[3.0,3.3,3.6,3.9],"format":".1f","ticks":false,"labelPadding":8,"title":"R (Å)","titleAngle":-90,"titleBaseline":"top","titleAlign":"center","titleX":57,"titleY":100}},"color":{"field":"s","type":"nominal","scale":{"domain":["b","r","g"],"range":["#0000ff","#ff0000","#00ff00"]},"legend":null},"shape":{"field":"s","type":"nominal","scale":{"domain":["b","r","g"],"range":["circle","square","triangle-up"]},"legend":null}}},
{"data":{"values":[{"lab":"Al₄₃"}]},"mark":{"type":"text","align":"left","baseline":"alphabetic","fontSize":22,"font":"DejaVu Serif","color":"black"},"encoding":{"x":{"datum":335,"type":"quantitative","axis":null},"y":{"datum":3.84,"type":"quantitative","axis":null},"text":{"field":"lab"}}}
]},
{"width":362,"height":182,"data":{"name":"L"},
"layer":[
{"mark":{"type":"errorbar","ticks":true,"size":12,"thickness":2,"color":"#008000"},"encoding":{"x":{"field":"T","type":"quantitative","scale":{"domain":[300,1000],"nice":false,"zero":false},"axis":null},"y":{"field":"C","type":"quantitative","scale":{"domain":[3.0,5.8],"nice":false,"zero":false},"axis":null},"yError":{"field":"e"}}},
{"mark":{"type":"point","shape":"circle","filled":false,"size":180,"strokeWidth":2,"color":"#008000","opacity":1},
"encoding":{"x":{"field":"T","type":"quantitative","axis":{"orient":"bottom","values":[300,450,600,750,900],"format":"d","ticks":false,"labelPadding":6,"title":"T (K)","titlePadding":9}},
"y":{"field":"C","type":"quantitative","axis":{"orient":"left","values":[4.0,5.0],"format":".1f","ticks":false,"labelPadding":8,"title":"C (eV/K)","titleX":-70,"titleY":91}}}}
]},
{"width":362,"height":182,"data":{"name":"R"},"transform":[{"filter":"datum.c == 55"}],
"layer":[
{"mark":{"type":"errorbar","ticks":true,"size":12,"thickness":2},"encoding":{"x":{"field":"T","type":"quantitative","scale":{"domain":[300,1000],"nice":false,"zero":false},"axis":null},"y":{"field":"R","type":"quantitative","scale":{"domain":[3.2,4.2],"nice":false,"zero":false},"axis":null},"yError":{"field":"e"},"color":{"field":"s","type":"nominal","scale":{"domain":["b","r","g"],"range":["#0000ff","#ff0000","#00ff00"]},"legend":null}}},
{"mark":{"type":"point","filled":false,"size":160,"strokeWidth":2,"opacity":1},"encoding":{"x":{"field":"T","type":"quantitative","axis":{"orient":"bottom","values":[400,600,800,1000],"format":"d","ticks":false,"labelPadding":6,"title":"T (K)","titlePadding":9}},"y":{"field":"R","type":"quantitative","axis":{"orient":"right","values":[3.3,3.6,3.9],"format":".1f","ticks":false,"labelPadding":8,"title":null}},"color":{"field":"s","type":"nominal","scale":{"domain":["b","r","g"],"range":["#0000ff","#ff0000","#00ff00"]},"legend":null},"shape":{"field":"s","type":"nominal","scale":{"domain":["b","r","g"],"range":["circle","square","triangle-up"]},"legend":null}}},
{"data":{"values":[{"lab":"Al₅₅"}]},"mark":{"type":"text","align":"left","baseline":"alphabetic","fontSize":22,"font":"DejaVu Serif","color":"black"},"encoding":{"x":{"datum":335,"type":"quantitative","axis":null},"y":{"datum":4.035,"type":"quantitative","axis":null},"text":{"field":"lab"}}}
]}
]
}
